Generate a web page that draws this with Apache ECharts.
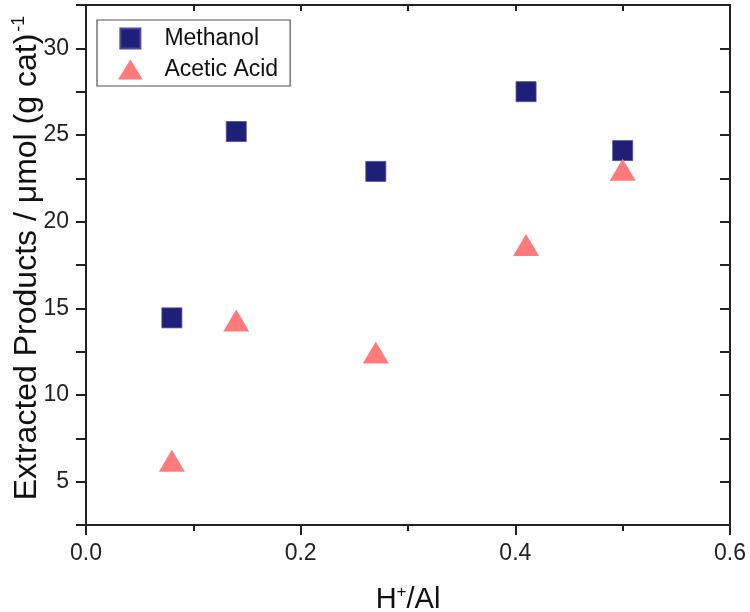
<!DOCTYPE html>
<html>
<head>
<meta charset="utf-8">
<script src="https://cdn.jsdelivr.net/npm/echarts@6/dist/echarts.min.js"></script>
<style>
html,body{margin:0;padding:0;background:#fff;}
#chart{width:750px;height:612px;}
</style>
</head>
<body>
<div id="chart"></div>
<script>
// Data
var hAl = [0.08, 0.14, 0.27, 0.41, 0.50];
var methanol = [14.45, 25.2, 22.9, 27.5, 24.1];
var aceticAcid = [6.2, 14.3, 12.45, 18.65, 23.0];
var seriesNames = ['Methanol', 'Acetic Acid'];
var yLabelValues = [5, 10, 15, 20, 25, 30];
var xLabelValues = [0, 0.2, 0.4, 0.6];

function pairs(xs, ys) { return xs.map(function (x, i) { return [x, ys[i]]; }); }

var FONT = '"Liberation Sans", Arial, Helvetica, sans-serif';
var AX = '#222';
var chart = echarts.init(document.getElementById('chart'));
chart.setOption({
  animation: false,
  backgroundColor: '#fff',
  textStyle: { fontFamily: FONT },
  grid: { left: 86, right: 20, top: 5, bottom: 87, containLabel: false, outerBoundsMode: 'none' },
  legend: {
    orient: 'vertical', left: 97, top: 20,
    padding: [7, 12, 5, 21],
    itemGap: 8, itemWidth: 26, itemHeight: 20,
    borderColor: '#555', borderWidth: 1.2,
    data: [
      { name: seriesNames[0], icon: 'path://M0,0L20,0L20,20L0,20Z' },
      { name: seriesNames[1], icon: 'path://M13,0L26,21L0,21Z' }
    ],
    textStyle: { fontSize: 23, color: '#111', fontFamily: FONT, padding: [0, 0, 0, 16], lineHeight: 20 }
  },
  xAxis: [{
    type: 'value', position: 'bottom', min: 0, max: 0.6, interval: 0.2,
    axisLine: { show: true, onZero: false, lineStyle: { color: AX, width: 2 } },
    axisTick: { show: true, inside: false, length: 10, lineStyle: { color: AX, width: 2 } },
    minorTick: { show: true, splitNumber: 2, length: 6, lineStyle: { color: AX, width: 2 } },
    splitLine: { show: false },
    axisLabel: {
      fontSize: 23, color: '#222', margin: 17, fontFamily: FONT,
      formatter: function (v) { return xLabelValues.indexOf(Math.round(v * 10) / 10) >= 0 ? v.toFixed(1) : ''; }
    },
    name: 'H{sup|+}/Al', nameLocation: 'middle', nameGap: 59, nameMoveOverlap: false,
    nameTextStyle: {
      fontSize: 29, color: '#111', fontFamily: FONT,
      rich: { sup: { fontSize: 17, verticalAlign: 'top', padding: [0, 0, 14, 0], color: '#111', fontFamily: FONT } }
    }
  }, {
    type: 'value', position: 'top', min: 0, max: 0.6, interval: 0.1,
    axisLine: { show: true, onZero: false, lineStyle: { color: AX, width: 2 } },
    axisTick: { show: true, inside: true, length: 6, lineStyle: { color: AX, width: 2 } },
    axisLabel: { show: false }, splitLine: { show: false }
  }],
  yAxis: [{
    type: 'value', position: 'left', min: 2.5, max: 32.5, interval: 2.5,
    axisLine: { show: true, onZero: false, lineStyle: { color: AX, width: 2 } },
    axisTick: { show: true, inside: false, length: 10, lineStyle: { color: AX, width: 2 } },
    splitLine: { show: false },
    axisLabel: {
      fontSize: 23, color: '#222', margin: 17, fontFamily: FONT,
      formatter: function (v) { return yLabelValues.indexOf(v) >= 0 ? String(v) : ''; }
    },
    name: '{a|Extracted Products / μmol (g cat)}{sup|-1}', nameLocation: 'middle', nameGap: 42, nameMoveOverlap: false,
    nameTextStyle: {
      fontSize: 32, color: '#111', fontFamily: FONT, padding: [0, 0, 0, 14],
      rich: {
        a: { fontSize: 32, color: '#111', fontFamily: FONT },
        sup: { fontSize: 18, verticalAlign: 'top', padding: [0, 0, 16, 2], color: '#111', fontFamily: FONT }
      }
    }
  }, {
    type: 'value', position: 'right', min: 2.5, max: 32.5, interval: 2.5,
    axisLine: { show: true, onZero: false, lineStyle: { color: AX, width: 2 } },
    axisTick: { show: true, inside: true, length: 10, lineStyle: { color: AX, width: 2 } },
    axisLabel: { show: false }, splitLine: { show: false }
  }],
  series: [{
    name: seriesNames[0], type: 'scatter', xAxisIndex: 0, yAxisIndex: 0,
    symbol: 'rect', symbolSize: 20,
    itemStyle: { color: '#1f1f78', borderColor: '#4a4aa0', borderWidth: 0.8, opacity: 1 },
    data: pairs(hAl, methanol)
  }, {
    name: seriesNames[1], type: 'scatter', xAxisIndex: 0, yAxisIndex: 0,
    symbol: 'triangle', symbolSize: [26, 22],
    itemStyle: { color: '#ff7b7b', opacity: 1 },
    data: pairs(hAl, aceticAcid)
  }]
});
</script>
</body>
</html>
